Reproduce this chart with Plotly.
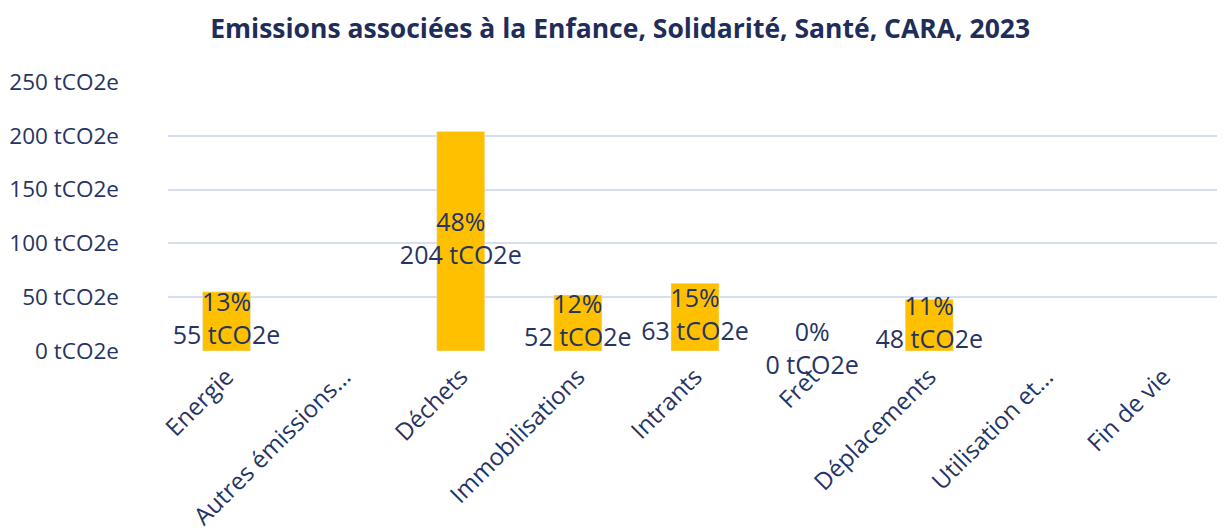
import plotly.graph_objects as go

categories = ["Energie", "Autres émissions…", "Déchets", "Immobilisations", "Intrants",
              "Fret", "Déplacements", "Utilisation et…", "Fin de vie"]
values = [55, None, 204, 52, 63, 0, 48, None, None]
percents = ["13%", None, "48%", "12%", "15%", "0%", "11%", None, None]
tick_vals = [0, 50, 100, 150, 200, 250]
tick_text = [f"{v} tCO2e" for v in tick_vals]

NAVY = "#263463"
FONT = "Open Sans"

lab_x, lab_y, lab_t = [], [], []
for c, v, p in zip(categories, values, percents):
    if v is not None:
        lab_x.append(c)
        lab_y.append(v / 2)
        lab_t.append(f"{p}<br>{v} tCO2e")

fig = go.Figure()
fig.add_trace(go.Bar(x=categories, y=values, marker_color="#FFC000", width=0.41,
                     hoverinfo="skip"))
fig.add_trace(go.Scatter(x=lab_x, y=lab_y, text=lab_t, mode="text",
                         textfont=dict(family=FONT, size=25, color=NAVY),
                         textposition="middle center", hoverinfo="skip", cliponaxis=False))

fig.update_layout(
    width=1217, height=523,
    margin=dict(l=160, r=3, t=74, b=180),
    paper_bgcolor="white", plot_bgcolor="white",
    showlegend=False,
    title=dict(text="<b>Emissions associées à la Enfance, Solidarité, Santé, CARA, 2023</b>",
               x=0.503, xanchor="center", y=0.96, yanchor="middle",
               font=dict(family=FONT, size=26.5, color="#1F2D5A")),
    font=dict(family=FONT, color=NAVY),
)
fig.update_yaxes(range=[0, 250], tickvals=tick_vals, ticktext=tick_text,
                 showgrid=True, gridcolor="#D6DEEF", gridwidth=2, zeroline=False,
                 tickfont=dict(family=FONT, size=22.5, color=NAVY), ticks="", ticklen=0,
                 automargin=False, ticklabelstandoff=48)
fig.update_xaxes(tickangle=-45, tickfont=dict(family=FONT, size=24, color=NAVY),
                 showline=False, showgrid=False, automargin=False, ticks="",
                 ticklabelstandoff=6)
fig.write_html("out.html")
